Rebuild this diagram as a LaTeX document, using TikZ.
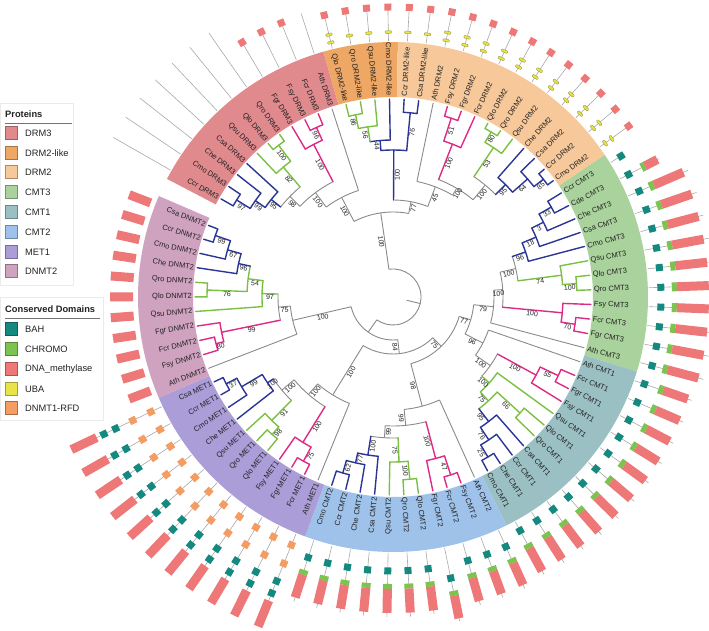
\documentclass[tikz,border=0pt]{standalone}
\usepackage{fontspec}
\setmainfont{Liberation Sans}
\definecolor{cB}{HTML}{2B3595}
\definecolor{cG}{HTML}{7BC043}
\definecolor{cP}{HTML}{DD2A86}
\definecolor{cK}{HTML}{8A8A8A}
\definecolor{rDRMiii}{HTML}{E08A8E}
\definecolor{rDRMlike}{HTML}{EEA764}
\definecolor{rDRMii}{HTML}{F7C89A}
\definecolor{rCMTiii}{HTML}{A9D29C}
\definecolor{rCMTi}{HTML}{9BC0C4}
\definecolor{rCMTii}{HTML}{9FC2EA}
\definecolor{rMETi}{HTML}{AA9DD8}
\definecolor{rDNMTii}{HTML}{CFA2C0}
\definecolor{dBAH}{HTML}{14897F}
\definecolor{dCHR}{HTML}{7CC350}
\definecolor{dDNA}{HTML}{EE7777}
\definecolor{dUBA}{HTML}{E8E448}
\definecolor{dRFD}{HTML}{F59C62}
\definecolor{txt}{HTML}{222222}
\definecolor{gl}{HTML}{A8A8A8}
\tikzset{
 tB/.style={draw=cB,line width=1.4pt,line cap=round},
 tG/.style={draw=cG,line width=1.4pt,line cap=round},
 tP/.style={draw=cP,line width=1.4pt,line cap=round},
 tK/.style={draw=cK,line width=0.9pt},
 bs/.style={font=\fontsize{7}{8}\selectfont, text=txt, inner sep=1pt, anchor=north},
 lab/.style={font=\fontsize{7.5}{9}\selectfont, text=txt, inner sep=0pt},
 gline/.style={draw=gl, line width=0.6pt},
 gbox/.style={inner sep=0pt, outer sep=0pt, draw=none},
 ubar/.style={inner sep=0pt, minimum width=2.6pt, minimum height=6.5pt, fill=dUBA, draw=dUBA!60!black, line width=0.3pt, rounded corners=0.8pt},
 lgt/.style={font=\fontsize{9.3}{11}\selectfont, text=txt, inner sep=0pt},
}
% internal node: parent r, node r, first child pos, last child pos, style, label
\newcommand\ND[6]{%
  \pgfmathsetmacro\ndA{150.3-4.235*((#3)+(#4))/2}%
  \pgfmathsetmacro\ndB{150.3-4.235*(#3)}%
  \pgfmathsetmacro\ndC{150.3-4.235*(#4)}%
  \pgfmathsetmacro\ndM{((#1)+(#2))/2}%
  \pgfmathsetmacro\ndR{cos(\ndA)>=0 ? \ndA : \ndA+180}%
  \draw[#5] (\ndA:#1pt) -- (\ndA:#2pt);
  \draw[#5] (\ndB:#2pt) arc[start angle=\ndB, end angle=\ndC, radius=#2pt];
  \ifx\relax#6\relax\else\node[bs, rotate=\ndR] at (\ndA:\ndM pt) {#6};\fi
}
\newcommand\LF[3]{%
  \pgfmathsetmacro\lfA{150.3-4.235*(#2)}%
  \draw[#3] (\lfA:#1pt) -- (\lfA:198pt);}
\newcommand\LB[2]{%
  \pgfmathsetmacro\lbA{150.3-4.235*(#1)}%
  \pgfmathsetmacro\lbR{cos(\lbA)>=0 ? \lbA : \lbA+180}%
  \pgfmathsetmacro\lbS{cos(\lbA)>=0 ? 1 : 0}%
  \ifdim\lbS pt>0.5pt \node[lab,rotate=\lbR,anchor=west] (l#1) at (\lbA:201pt) {#2};%
  \else \node[lab,rotate=\lbR,anchor=east] (l#1) at (\lbA:201pt) {#2};\fi}
\newcommand\SEC[3]{%
  \pgfmathsetmacro\sa{150.3-4.235*(#1)}%
  \pgfmathsetmacro\sb{150.3-4.235*(#2)}%
  \fill[#3] (\sa:200pt) arc[start angle=\sa,end angle=\sb,radius=200pt] -- (\sb:255pt) arc[start angle=\sb,end angle=\sa,radius=255pt] -- cycle;}
\newcommand\GL[3]{%
  \pgfmathsetmacro\gA{150.3-4.235*(#1)}%
  \draw[gline] (\gA:#2pt) -- (\gA:#3pt);}
\newcommand\GB[5]{%
  \pgfmathsetmacro\gA{150.3-4.235*(#1)}%
  \pgfmathsetmacro\gM{((#2)+(#3))/2}%
  \pgfmathsetmacro\gW{(#3)-(#2)}%
  \node[gbox, fill=#5, minimum width=\gW pt, minimum height=#4pt, rotate=\gA] at (\gA:\gM pt) {};}
\newcommand\UB[2]{%
  \pgfmathsetmacro\gA{150.3-4.235*(#1)}%
  \node[ubar,rotate=\gA] at (\gA:#2pt) {};}
\begin{document}
\begin{tikzpicture}[x=1pt,y=1pt]
\useasboundingbox (0,0) rectangle (709,630);
\begin{scope}[shift={(393,333)}]
% ring sectors
\SEC{-0.5}{10.5}{rDRMiii}
\SEC{10.5}{14.5}{rDRMlike}
\SEC{14.5}{27.5}{rDRMii}
\SEC{27.5}{39.5}{rCMTiii}
\SEC{39.5}{50.5}{rCMTi}
\SEC{50.5}{61.5}{rCMTii}
\SEC{61.5}{72.5}{rMETi}
\SEC{72.5}{83.5}{rDNMTii}
% root
\draw[tK] (-13.5:14pt) -- (-13.5:28pt);
\ND{28}{28}{12.2773}{65.0700}{tK}{}
% DRM clade
\ND{28}{85}{7.7969}{16.7578}{tK}{100}
\ND{85}{112}{5.5938}{10}{tK}{100}
\ND{112}{130}{3.4375}{7.75}{tK}{100}
\ND{130}{144}{2.125}{4.75}{tK}{98}
\ND{144}{156}{1.25}{3}{tB}{95}
\ND{156}{168}{0.5}{2}{tB}{99}
\ND{168}{184}{0}{1}{tB}{97}
\ND{144}{170}{4}{5.5}{tG}{82}
\ND{170}{190}{5}{6}{tG}{100}
\ND{130}{172}{7}{8.5}{tP}{100}
\ND{172}{186}{8}{9}{tP}{96}
\ND{85}{97}{14.3125}{19.2031}{tK}{77}
\ND{97}{147}{13.125}{15.5}{tB}{100}
\ND{147}{157}{12.25}{14}{tB}{44}
\ND{157}{172}{11.5}{13}{tG}{56}
\ND{172}{186}{11}{12}{tG}{86}
\ND{147}{185}{15}{16}{tB}{76}
\ND{97}{118}{17}{21.4063}{tK}{45}
\ND{118}{126}{19.25}{23.5625}{tK}{100}
\ND{126}{164}{18.5}{20}{tP}{100}
\ND{164}{188}{18}{19}{tP}{51}
\ND{126}{145}{22.25}{24.875}{tK}{100}
\ND{145}{180}{21.5}{23}{tG}{53}
\ND{180}{192}{21}{22}{tG}{80}
\ND{145}{159}{24}{25.75}{tB}{95}
\ND{159}{179}{25}{26.5}{tB}{64}
\ND{179}{191}{26}{27}{tB}{85}
% backbone
\ND{28}{43}{55.24}{74.898}{tK}{}
\ND{43}{57}{46.27}{64.203}{tK}{84}
\ND{57}{69}{39.344}{53.203}{tK}{75}
\ND{69}{81}{36.789}{41.898}{tK}{77}
% CMT3
\ND{81}{101}{34.578}{39}{tK}{79}
\ND{101}{110}{32.406}{36.75}{tK}{100}
\ND{110}{126}{31.0625}{33.75}{tK}{100}
\ND{126}{140}{30.125}{32}{tB}{96}
\ND{140}{155}{29.25}{31}{tB}{18}
\ND{155}{168}{28.5}{30}{tB}{3}
\ND{168}{182}{28}{29}{tB}{33}
\ND{126}{170}{33}{34.5}{tG}{74}
\ND{170}{184}{34}{35}{tG}{100}
\ND{110}{170}{36}{37.5}{tP}{100}
\ND{170}{184}{37}{38}{tP}{70}
% CMT1
\ND{81}{101}{40}{43.797}{tK}{96}
\ND{101}{119}{42.25}{45.344}{tK}{100}
\ND{119}{163}{41.5}{43}{tP}{100}
\ND{163}{183}{41}{42}{tP}{55}
\ND{119}{129}{44}{46.6875}{tG}{100}
\ND{129}{141}{45.5}{47.875}{tG}{75}
\ND{141}{172}{45}{46}{tG}{66}
\ND{141}{157}{47}{48.75}{tB}{95}
\ND{157}{172}{48}{49.5}{tB}{76}
\ND{172}{186}{49}{50}{tB}{25}
% CMT2
\ND{69}{113}{51}{55.406}{tK}{98}
\ND{113}{129}{53.25}{57.5625}{tK}{99}
\ND{129}{167}{52.5}{54}{tP}{100}
\ND{167}{187}{52}{53}{tP}{47}
\ND{129}{141}{56.25}{58.875}{tK}{99}
\ND{141}{165}{55.5}{57}{tG}{75}
\ND{165}{183}{55}{56}{tG}{100}
\ND{141}{160}{58}{59.75}{tB}{100}
\ND{160}{170}{59}{60.5}{tB}{77}
\ND{170}{183}{60}{61}{tB}{62}
% MET1
\ND{57}{115}{62}{66.406}{tK}{100}
\ND{115}{129}{64.25}{68.5625}{tK}{100}
\ND{129}{171}{63.5}{65}{tP}{100}
\ND{171}{187}{63}{64}{tP}{75}
\ND{129}{145}{67.25}{69.875}{tK}{100}
\ND{145}{173}{66.5}{68}{tG}{91}
\ND{173}{183}{66}{67}{tG}{98}
\ND{145}{152}{69}{70.75}{tB}{100}
\ND{152}{176}{70}{71.5}{tB}{99}
\ND{176}{188}{71}{72}{tB}{37}
% DNMT2
\ND{43}{103}{73}{76.797}{tK}{100}
\ND{103}{115}{75.25}{78.344}{tK}{75}
\ND{115}{175}{74.5}{76}{tP}{99}
\ND{175}{183}{74}{75}{tP}{80}
\ND{115}{131}{77}{79.6875}{tG}{97}
\ND{131}{146}{78.5}{80.875}{tG}{54}
\ND{146}{186}{78}{79}{tG}{76}
\ND{146}{158}{80}{81.75}{tB}{96}
\ND{158}{172}{81}{82.5}{tB}{67}
\ND{172}{188}{82}{83}{tB}{99}
% leaves
\LF{184}{0}{tB}\LF{184}{1}{tB}\LF{168}{2}{tB}\LF{156}{3}{tB}\LF{170}{4}{tG}\LF{190}{5}{tG}\LF{190}{6}{tG}\LF{172}{7}{tP}\LF{186}{8}{tP}\LF{186}{9}{tP}\LF{112}{10}{tK}
\LF{186}{11}{tG}\LF{186}{12}{tG}\LF{172}{13}{tG}\LF{157}{14}{tB}\LF{185}{15}{tB}\LF{185}{16}{tB}
\LF{118}{17}{tK}\LF{188}{18}{tP}\LF{188}{19}{tP}\LF{164}{20}{tP}\LF{192}{21}{tG}\LF{192}{22}{tG}\LF{180}{23}{tG}\LF{159}{24}{tB}\LF{179}{25}{tB}\LF{191}{26}{tB}\LF{191}{27}{tB}
\LF{182}{28}{tB}\LF{182}{29}{tB}\LF{168}{30}{tB}\LF{155}{31}{tB}\LF{140}{32}{tB}\LF{170}{33}{tG}\LF{184}{34}{tG}\LF{184}{35}{tG}\LF{170}{36}{tP}\LF{184}{37}{tP}\LF{184}{38}{tP}\LF{101}{39}{tK}
\LF{101}{40}{tK}\LF{183}{41}{tP}\LF{183}{42}{tP}\LF{163}{43}{tP}\LF{129}{44}{tG}\LF{172}{45}{tG}\LF{172}{46}{tG}\LF{157}{47}{tB}\LF{172}{48}{tB}\LF{186}{49}{tB}\LF{186}{50}{tB}
\LF{113}{51}{tK}\LF{187}{52}{tP}\LF{187}{53}{tP}\LF{167}{54}{tP}\LF{183}{55}{tG}\LF{183}{56}{tG}\LF{165}{57}{tG}\LF{160}{58}{tB}\LF{170}{59}{tB}\LF{183}{60}{tB}\LF{183}{61}{tB}
\LF{115}{62}{tK}\LF{187}{63}{tP}\LF{187}{64}{tP}\LF{171}{65}{tP}\LF{183}{66}{tG}\LF{183}{67}{tG}\LF{173}{68}{tG}\LF{152}{69}{tB}\LF{176}{70}{tB}\LF{188}{71}{tB}\LF{188}{72}{tB}
\LF{103}{73}{tK}\LF{183}{74}{tP}\LF{183}{75}{tP}\LF{175}{76}{tP}\LF{131}{77}{tG}\LF{186}{78}{tG}\LF{186}{79}{tG}\LF{158}{80}{tB}\LF{172}{81}{tB}\LF{188}{82}{tB}\LF{188}{83}{tB}
% leaf labels
\LB{0}{Ccr DRM3}\LB{1}{Cmo DRM3}\LB{2}{Che DRM3}\LB{3}{Csa DRM3}\LB{4}{Qsu DRM3}\LB{5}{Qlo DRM3}\LB{6}{Qro DRM3}\LB{7}{Fgr DRM3}\LB{8}{Fsy DRM3}\LB{9}{Fcr DRM3}\LB{10}{Ath DRM3}
\LB{11}{Qlo DRM2-like}\LB{12}{Qro DRM2-like}\LB{13}{Qsu DRM2-like}\LB{14}{Cmo DRM2-like}\LB{15}{Ccr DRM2-like}\LB{16}{Csa DRM2-like}
\LB{17}{Ath DRM2}\LB{18}{Fsy DRM2}\LB{19}{Fgr DRM2}\LB{20}{Fcr DRM2}\LB{21}{Qlo DRM2}\LB{22}{Qro DRM2}\LB{23}{Qsu DRM2}\LB{24}{Che DRM2}\LB{25}{Csa DRM2}\LB{26}{Ccr DRM2}\LB{27}{Cmo DRM2}
\LB{28}{Ccr CMT3}\LB{29}{Cde CMT3}\LB{30}{Che CMT3}\LB{31}{Csa CMT3}\LB{32}{Cmo CMT3}\LB{33}{Qsu CMT3}\LB{34}{Qlo CMT3}\LB{35}{Qro CMT3}\LB{36}{Fsy CMT3}\LB{37}{Fcr CMT3}\LB{38}{Fgr CMT3}\LB{39}{Ath CMT3}
\LB{40}{Ath CMT1}\LB{41}{Fcr CMT1}\LB{42}{Fgr CMT1}\LB{43}{Fsy CMT1}\LB{44}{Qsu CMT1}\LB{45}{Qlo CMT1}\LB{46}{Qro CMT1}\LB{47}{Csa CMT1}\LB{48}{Ccr CMT1}\LB{49}{Che CMT1}\LB{50}{Cmo CMT1}
\LB{51}{Ath CMT2}\LB{52}{Fsy CMT2}\LB{53}{Fcr CMT2}\LB{54}{Fgr CMT2}\LB{55}{Qlo CMT2}\LB{56}{Qro CMT2}\LB{57}{Qsu CMT2}\LB{58}{Csa CMT2}\LB{59}{Che CMT2}\LB{60}{Ccr CMT2}\LB{61}{Cmo CMT2}
\LB{62}{Ath MET1}\LB{63}{Fcr MET1}\LB{64}{Fgr MET1}\LB{65}{Fsy MET1}\LB{66}{Qlo MET1}\LB{67}{Qro MET1}\LB{68}{Qsu MET1}\LB{69}{Che MET1}\LB{70}{Cmo MET1}\LB{71}{Ccr MET1}\LB{72}{Csa MET1}
\LB{73}{Ath DNMT2}\LB{74}{Fsy DNMT2}\LB{75}{Fcr DNMT2}\LB{76}{Fgr DNMT2}\LB{77}{Qsu DNMT2}\LB{78}{Qlo DNMT2}\LB{79}{Qro DNMT2}\LB{80}{Che DNMT2}\LB{81}{Cmo DNMT2}\LB{82}{Ccr DNMT2}\LB{83}{Csa DNMT2}
% domain glyphs
\foreach \i in {0,...,6} {\GL{\i}{256}{322}}
\foreach \i in {7,8,9} {\GL{\i}{256}{293}\GB{\i}{292.5}{299.5}{7}{dDNA}}
\GL{10}{256}{298}
\foreach \i in {11,...,16} {\GL{\i}{256}{287}\GB{\i}{286.5}{293.5}{7}{dDNA}}
\UB{11}{262}\UB{11}{270}
\foreach \i in {12,...,16} {\UB{\i}{265}}
\foreach \i in {17,...,27} {\GL{\i}{256}{288}\GB{\i}{287.5}{294.5}{7}{dDNA}\UB{\i}{262}\UB{\i}{270}}
\GL{28}{256}{272}\GB{28}{264.5}{271.5}{7}{dBAH}
\GL{29}{256}{300}\GB{29}{262}{269}{7}{dBAH}\GB{29}{280}{284}{9}{dCHR}\GB{29}{284}{298}{9}{dDNA}
\foreach \i in {30,...,39} {\GL{\i}{256}{321}\GB{\i}{264.5}{271.5}{7}{dBAH}\GB{\i}{279}{284}{9}{dCHR}\GB{\i}{284}{316}{9}{dDNA}}
\foreach \i in {40,...,50} {\GL{\i}{256}{316}\GB{\i}{262.5}{269.5}{7}{dBAH}\GB{\i}{281}{286}{9}{dCHR}\GB{\i}{286}{312}{9}{dDNA}}
\foreach \i in {51,52,53,55,56,57,58,59,60,61} {\GL{\i}{256}{320}\GB{\i}{270.5}{277.5}{7}{dBAH}\GB{\i}{287}{292}{9}{dCHR}\GB{\i}{292}{316}{9}{dDNA}}
\GL{54}{256}{331}\GB{54}{283.5}{290.5}{7}{dBAH}\GB{54}{300}{305}{9}{dCHR}\GB{54}{305}{328}{9}{dDNA}
\foreach \i in {62,...,72} {\GL{\i}{256}{356}\GB{\i}{264.5}{271.5}{7}{dRFD}\GB{\i}{284.5}{291.5}{7}{dRFD}\GB{\i}{303.5}{310.5}{7}{dBAH}\GB{\i}{316.5}{323.5}{7}{dBAH}\GB{\i}{328}{356}{9}{dDNA}}
\foreach \i in {73,...,83} {\GB{\i}{260}{283}{9}{dDNA}}
\end{scope}
% legends
\filldraw[fill=white, draw=black!8] (0,345) rectangle (73,527);
\node[lgt,anchor=west,font=\fontsize{9.3}{11}\selectfont\bfseries] (ptitle) at (5,516) {Proteins};
\draw[black!55, line width=0.6pt] (5,507) -- (72,507);
\foreach \y/\c/\t [count=\k] in {497/rDRMiii/DRM3, 477/rDRMlike/DRM2-like, 458/rDRMii/DRM2, 438/rCMTiii/CMT3, 418/rCMTi/CMT1, 398/rCMTii/CMT2, 378/rMETi/MET1, 359/rDNMTii/DNMT2} {
  \filldraw[fill=\c, draw=\c!70!black, line width=0.4pt] (5,\y-6.5) rectangle (17,\y+6.5);
  \node[lgt,anchor=west] (p\k) at (25,\y) {\t};
}
\filldraw[fill=white, draw=black!8] (0,210) rectangle (103,333);
\node[lgt,anchor=west,font=\fontsize{9.3}{11}\selectfont\bfseries] (dtitle) at (5,321) {Conserved Domains};
\draw[black!55, line width=0.6pt] (5,312) -- (100,312);
\foreach \y/\c/\t [count=\k] in {301/dBAH/BAH, 281/dCHR/CHROMO, 261/dDNA/DNA\_methylase, 241/dUBA/UBA, 222/dRFD/DNMT1-RFD} {
  \filldraw[fill=\c, draw=\c!70!black, line width=0.4pt] (5,\y-6.5) rectangle (17,\y+6.5);
  \node[lgt,anchor=west] (d\k) at (25,\y) {\t};
}
\end{tikzpicture}
\end{document}
